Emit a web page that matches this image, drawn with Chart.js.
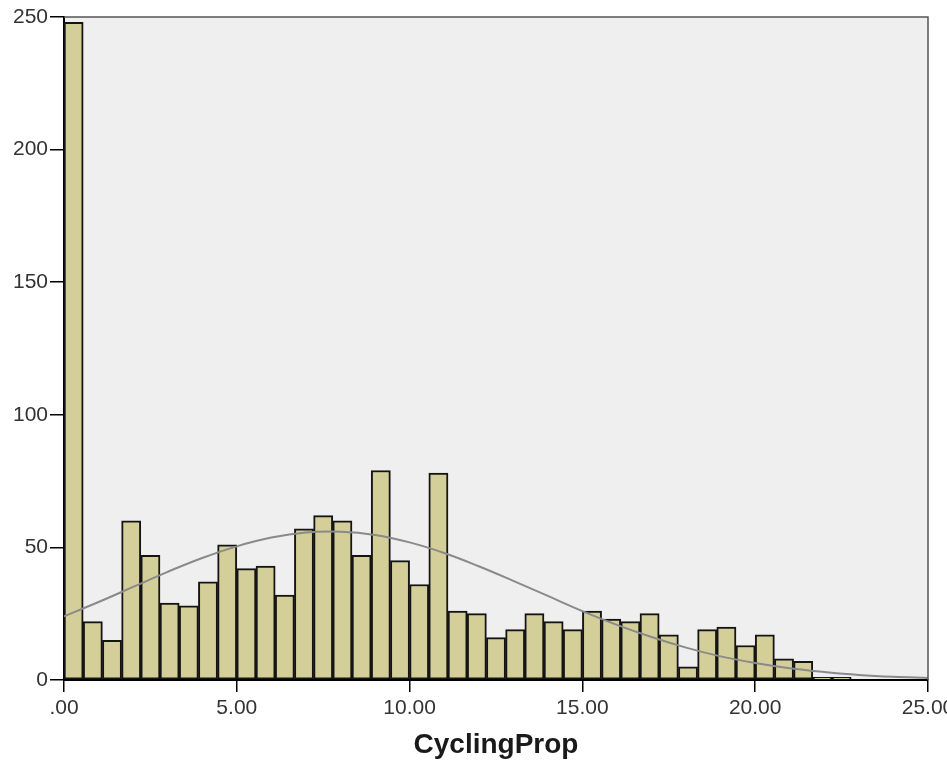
<!DOCTYPE html>
<html>
<head>
<meta charset="utf-8">
<script src="https://cdn.jsdelivr.net/npm/chart.js@4.4.1/dist/chart.umd.min.js"></script>
<style>
  html, body { margin: 0; padding: 0; background: #fff; overflow: hidden; }
  #wrap { width: 947px; height: 764px; overflow: hidden; }
</style>
</head>
<body>
<div id="wrap"><canvas id="histChart" width="1000" height="764"></canvas></div>
<script>
// histogram of CyclingProp, bins of 5/9 starting at 0
const binWidth = 5 / 9;
const counts = [
  248, 22, 15, 60, 47, 29, 28, 37, 51,
  42, 43, 32, 57, 62, 60, 47, 79, 45,
  36, 78, 26, 25, 16, 19, 25, 22, 19,
  26, 23, 22, 25, 17, 5, 19, 20, 13,
  17, 8, 7, 1, 1
];

// normal curve
const curveX = [0, 1, 2, 3, 4, 5, 6, 7, 8, 9, 10, 11, 12, 13, 14, 15, 16, 17, 18, 19, 20, 21, 22, 23, 24, 25];
const curveY = [24, 29.4, 35.1, 40.8, 46, 50.4, 53.7, 55.6, 55.9, 54.7, 51.9, 47.9, 42.9, 37.4, 31.7, 26, 20.8, 16.2, 12.2, 8.9, 6.4, 4.4, 3, 1.9, 1.2, 0.8];

const xTickLabels = ['.00', '5.00', '10.00', '15.00', '20.00', '25.00'];
const yTicks = [0, 50, 100, 150, 200, 250];

const FONT = '"Liberation Sans", Arial, sans-serif';

const plotFrame = {
  id: 'plotFrame',
  beforeDraw(chart) {
    const a = chart.chartArea;
    const ctx = chart.ctx;
    ctx.save();
    ctx.fillStyle = '#efefef';
    ctx.fillRect(a.left, a.top, a.right - a.left, a.bottom - a.top);
    ctx.restore();
  },
  afterDraw(chart) {
    const a = chart.chartArea;
    const ctx = chart.ctx;
    ctx.save();
    ctx.strokeStyle = '#555';
    ctx.lineWidth = 1.5;
    ctx.beginPath();
    ctx.moveTo(a.left, a.top);
    ctx.lineTo(a.right, a.top);
    ctx.lineTo(a.right, a.bottom);
    ctx.stroke();
    ctx.restore();
  }
};

const ctx = document.getElementById('histChart').getContext('2d');
new Chart(ctx, {
  data: {
    datasets: [
      {
        type: 'line',
        order: 0,
        data: curveX.map((x, i) => ({ x: x, y: curveY[i] })),
        borderColor: '#8a8a8a',
        borderWidth: 2,
        pointRadius: 0,
        tension: 0.4,
        fill: false
      },
      {
        type: 'bar',
        order: 1,
        data: counts.map((c, i) => ({ x: (i + 0.5) * binWidth, y: c })),
        backgroundColor: '#d4cf99',
        borderColor: '#141414',
        borderWidth: 2,
        borderSkipped: false,
        barPercentage: 1,
        categoryPercentage: 1
      }
    ]
  },
  options: {
    responsive: false,
    animation: false,
    layout: { padding: { left: 0, right: 72, top: 17, bottom: 0 } },
    plugins: {
      legend: { display: false },
      tooltip: { enabled: false }
    },
    scales: {
      x: {
        type: 'linear',
        min: 0,
        max: 25,
        offset: false,
        afterFit: s => { s.height = 84; },
        afterBuildTicks: s => { s.ticks = xTickLabels.map((t, i) => ({ value: i * 5 })); },
        border: { display: true, color: '#000', width: 2 },
        grid: { offset: false, drawOnChartArea: false, drawTicks: true, tickLength: 12, color: '#000', lineWidth: 1.5 },
        ticks: {
          padding: 4,
          maxRotation: 0,
          autoSkip: false,
          color: '#333',
          font: { family: FONT, size: 21 },
          callback: (v, i) => xTickLabels[i]
        },
        title: {
          display: true,
          text: 'CyclingProp',
          color: '#1a1a1a',
          font: { family: FONT, size: 28, weight: 'bold' },
          padding: { top: 4, bottom: 2 }
        }
      },
      y: {
        min: 0,
        max: 250,
        afterFit: s => { s.width = 64; },
        afterBuildTicks: s => { s.ticks = yTicks.map(v => ({ value: v })); },
        border: { display: true, color: '#000', width: 2 },
        grid: { drawOnChartArea: false, drawTicks: true, tickLength: 14, color: '#000', lineWidth: 1.5 },
        ticks: {
          padding: 2,
          color: '#333',
          font: { family: FONT, size: 21 }
        }
      }
    }
  },
  plugins: [plotFrame]
});
</script>
</body>
</html>
